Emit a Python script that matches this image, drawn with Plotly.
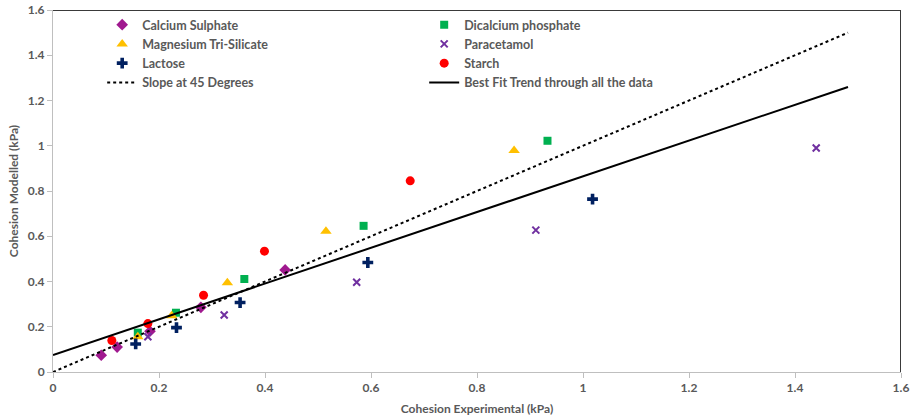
import plotly.graph_objects as go

calcium_x = [0.091, 0.121, 0.183, 0.279, 0.438]
calcium_y = [0.074, 0.110, 0.180, 0.286, 0.451]
dicalcium_x = [0.160, 0.232, 0.361, 0.586, 0.933]
dicalcium_y = [0.174, 0.262, 0.411, 0.646, 1.022]
magnesium_x = [0.160, 0.224, 0.329, 0.515, 0.870]
magnesium_y = [0.156, 0.249, 0.395, 0.622, 0.979]
paracetamol_x = [0.179, 0.323, 0.573, 0.911, 1.440]
paracetamol_y = [0.156, 0.252, 0.397, 0.627, 0.990]
lactose_x = [0.156, 0.233, 0.353, 0.594, 1.018]
lactose_y = [0.124, 0.196, 0.307, 0.484, 0.764]
starch_x = [0.111, 0.179, 0.284, 0.399, 0.674]
starch_y = [0.139, 0.214, 0.339, 0.534, 0.845]
slope45_x = [0.0, 1.5]
slope45_y = [0.0, 1.5]
bestfit_x = [0.0, 1.5]
bestfit_y = [0.075, 1.26]

AX_MIN, AX_MAX = 0.0, 1.6

FONT = "Lato"
GRAY = "#595959"

fig = go.Figure()

# plot-area frame (top and right edges) drawn along the axis range limits
fig.add_trace(go.Scatter(x=[AX_MIN, AX_MAX, AX_MAX], y=[AX_MAX, AX_MAX, AX_MIN],
                         mode="lines", line=dict(color="#3A3A3A", width=2),
                         cliponaxis=False, showlegend=False, hoverinfo="skip"))

def sc(x, y, name, color, symbol, size, line=None):
    marker = dict(color=color, symbol=symbol, size=size)
    if line:
        marker["line"] = line
    fig.add_trace(go.Scatter(x=x, y=y, mode="markers", name=name, marker=marker))

sc(calcium_x, calcium_y, "Calcium Sulphate", "#A0198F", "diamond", 9)
sc(dicalcium_x, dicalcium_y, "Dicalcium phosphate", "#00B050", "square", 8)
sc(magnesium_x, magnesium_y, "Magnesium Tri-Silicate", "#FFC000", "triangle-up", 10)
sc(paracetamol_x, paracetamol_y, "Paracetamol", "#7030A0", "x-thin-open", 7,
   line=dict(color="#7030A0", width=2))
sc(lactose_x, lactose_y, "Lactose", "#002060", "cross", 9)
sc(starch_x, starch_y, "Starch", "#FF0000", "circle", 9)

fig.add_trace(go.Scatter(x=slope45_x, y=slope45_y, mode="lines", name="Slope at 45 Degrees",
                         line=dict(color="#000000", width=2, dash="dot")))
fig.add_trace(go.Scatter(x=bestfit_x, y=bestfit_y, mode="lines",
                         name="Best Fit Trend through all the data",
                         line=dict(color="#000000", width=2)))

axis_common = dict(
    showgrid=False, zeroline=False, showline=True, linecolor="#BFBFBF", linewidth=1,
    ticks="outside", tickcolor="#BFBFBF", ticklen=5, automargin=False,
    ticklabeloverflow="allow",
    tickfont=dict(family=FONT, size=12, color=GRAY, weight="bold"),
)

fig.update_layout(
    width=911, height=418,
    margin=dict(l=53, r=10, t=10, b=46, autoexpand=False),
    paper_bgcolor="white", plot_bgcolor="white",
    font=dict(family=FONT, color=GRAY),
    xaxis=dict(range=[AX_MIN, AX_MAX], dtick=0.2, tick0=0,
               title=dict(text="Cohesion Experimental (kPa)", standoff=10,
                          font=dict(family=FONT, size=12, color=GRAY, weight="bold")),
               **axis_common),
    yaxis=dict(range=[AX_MIN, AX_MAX], dtick=0.2, tick0=0,
               title=dict(text="Cohesion Modelled (kPa)", standoff=6,
                          font=dict(family=FONT, size=12, color=GRAY, weight="bold")),
               **axis_common),
    legend=dict(orientation="h", x=0.058, xanchor="left", y=1.0, yanchor="top",
                entrywidth=277, entrywidthmode="pixels",
                font=dict(family=FONT, size=12.5, color=GRAY, weight="bold"),
                bgcolor="rgba(0,0,0,0)"),
    showlegend=True,
)

fig.write_html("out.html", config={"displayModeBar": False},
               post_script="document.body.style.margin='0';document.body.style.overflow='hidden';")
